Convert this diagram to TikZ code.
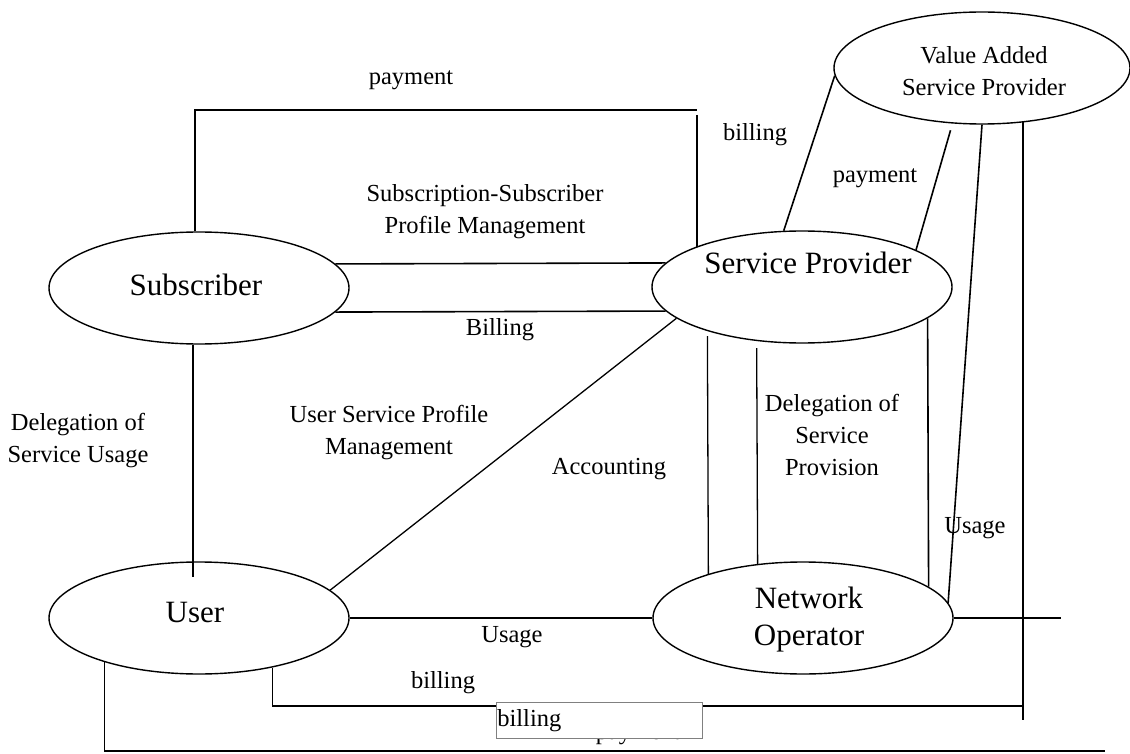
\documentclass[tikz,border=0pt]{standalone}
\usepackage{fontspec}
\setmainfont{Liberation Serif}
\usetikzlibrary{shapes.geometric}
\begin{document}
\begin{tikzpicture}[x=1pt,y=-1pt,
  ent/.style={draw, ellipse, line width=1.4pt, minimum width=300pt, minimum height=112pt, inner sep=0pt},
  big/.style={font=\fontsize{31}{37}\selectfont, align=center, inner sep=0pt},
  lbl/.style={font=\fontsize{24.5}{32}\selectfont, align=center, inner sep=0pt},
  conn/.style={line width=1.6pt},
  boxst/.style={draw=gray, line width=0.7pt, fill=white, anchor=north west, minimum width=206pt, minimum height=36pt, inner sep=0pt, font=\fontsize{24.5}{32}\selectfont, text width=204pt, align=left},
]
\useasboundingbox (0,0) rectangle (1130,754);

% entities
\node[ent] (sub) at (199,288) {};
\node[ent] (sp) at (802,287) {};
\node[ent] (usr) at (199,618) {};
\node[ent] (no) at (803,618) {};
\node[ent, minimum width=296pt] (vasp) at (982,68) {};

\node[big] (tsub) at (196,285) {Subscriber};
\node[big] (tsp) at (808,263) {Service Provider};
\node[big] (tusr) at (195,612) {User};
\node[big] (tno) at (809,620) {Network\\Operator};
\node[lbl] (tvasp) at (984,71) {Value Added\\Service Provider};

% coordinates for free ends
\coordinate (payR) at (697,110);
\coordinate (vb) at (1022,720);
\coordinate (billR) at (1022,706);
\coordinate (payB) at (1105,751);
\coordinate (noR) at (1061,618);

% connectors
\draw[conn] (sub.94) |- (payR);
\draw[conn] (payR |- 0,115) -- (payR |- sp.159);
\draw[conn] (sub.10) -- (sp.170.5);
\draw[conn] (sub.-10) -- (sp.190.5);
\draw[conn, line width=1.3pt, shorten >=-16pt] (sub.264) -- (usr.96);
\draw[conn, line width=1.3pt] (usr.12) -- (sp.194);
\draw[conn] (usr.east) -- (no.west);
\draw[conn, line width=1.3pt, shorten <=5pt] (sp.205) -- (no.155.6);
\draw[conn, line width=1.3pt, shorten <=7pt] (sp.230.6) -- (no.130.1);
\draw[conn] (sp.-14.3) -- (no.14.6);
\draw[conn] (vasp.183) -- (sp.108);
\draw[conn, shorten <=7pt] (vasp.242.7) -- (sp.18);
\draw[conn] (vasp.-90) -- (no.6);
\draw[conn] (vasp.-53.5) -- (vasp.-53.5 |- vb);
\draw[conn] (usr.-34.8) |- (billR);
\draw[conn] (usr.205.7) |- (payB);
\draw[conn] (no.east) -- (noR);

% labels
\node[lbl] (lpay1) at (411,80) {payment};
\node[lbl] (lbill1) at (755,135) {billing};
\node[lbl] (lpay2) at (875,178) {payment};
\node[lbl] (lsub) at (485,212) {Subscription-Subscriber\\Profile Management};
\node[lbl] (lbill2) at (500,330) {Billing};
\node[lbl] (ldel1) at (78,441) {Delegation of\\Service Usage};
\node[lbl] (lusp) at (389,433) {User Service Profile\\Management};
\node[lbl] (lacc) at (609,469) {Accounting};
\node[lbl] (ldel2) at (832,435) {Delegation of\\Service\\Provision};
\node[lbl] (lusage1) at (975,528) {Usage};
\node[lbl] (lusage2) at (512,637) {Usage};
\node[lbl] (lbill3) at (443,683) {billing};
\node[lbl, anchor=base] (lpay3) at (638,739.5) {payment};
\node[boxst] (bbox) at (496,702) {billing};
\end{tikzpicture}
\end{document}
